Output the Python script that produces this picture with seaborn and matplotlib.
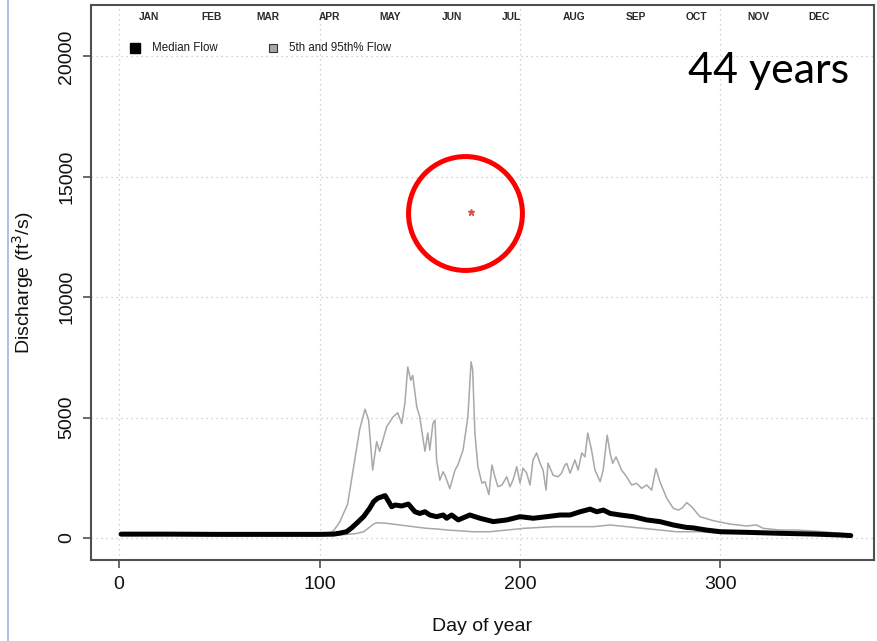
import pandas as pd
import matplotlib
matplotlib.use('Agg')
import matplotlib.pyplot as plt
import matplotlib.transforms as mtransforms
from matplotlib.lines import Line2D
import seaborn as sns

# 95th percentile flow (day of year, ft3/s)
p95_days = [1, 20, 40, 60, 80, 100, 105, 107, 110, 114, 117, 120, 122.7, 124.5,
            126.5, 128.5, 130, 133.5, 136.7, 139, 141, 142.6, 144, 145.5, 146.5,
            148.5, 150, 151.7, 152.6, 154, 155, 156.6, 157.6, 158.4, 160, 161.6,
            162.6, 165, 167.6, 169, 171.6, 174, 175.6, 176.4, 177.5, 179, 181,
            182.5, 184.5, 186, 187.5, 189, 191, 193.4, 195, 196.5, 198.4, 200,
            201.5, 203.3, 205, 206.5, 208.3, 210, 211.5, 213, 214, 216.5, 219,
            220.8, 222.4, 223.3, 225, 227.4, 229, 230.8, 232.4, 233.8, 235.7,
            237.4, 240, 241.5, 243.5, 245, 246.2, 247.9, 250.7, 253.2, 255.7,
            258.2, 260.7, 263.2, 265.7, 267.8, 269.8, 273.2, 276.5, 279, 281,
            283.2, 285.6, 289.8, 296.4, 304.7, 313, 318, 321.4, 329.7, 338,
            351.3, 359.6, 365]
p95_flow = [190, 180, 170, 160, 170, 180, 220, 300, 650, 1400, 2950, 4500, 5350, 4900,
            2820, 4000, 3600, 4620, 5030, 5200, 4750, 5600, 7100, 6550, 6750,
            5450, 5030, 4070, 3600, 4360, 3650, 4770, 4900, 3240, 2400, 2750,
            2600, 2050, 2820, 3030, 3650, 5030, 7320, 6970, 4360, 2960, 2280,
            2340, 1800, 3030, 2540, 2130, 2200, 2540, 2130, 2400, 2960, 2280,
            2900, 2700, 2200, 3240, 3530, 3110, 2820, 1990, 3110, 2610, 2540,
            2700, 3030, 3100, 2690, 3240, 2820, 3530, 3370, 4360, 3650,
            2820, 2340, 2820, 4270, 3510, 3100, 3370, 2820, 2540, 2200,
            2270, 2060, 2200, 1990, 2890, 2340, 1650, 1230, 1160, 1250,
            1470, 1300, 885, 720, 580, 500, 540, 400, 330, 330,
            260, 195, 125]

# median flow
med_days = [1, 25, 50, 75, 100, 107, 110, 113.5, 116, 118.5, 122, 125, 127, 129,
            132.7, 134, 136, 137.7, 141, 144.3, 147.6, 150, 152.6, 155, 158.4,
            161.7, 163.4, 165.9, 169.2, 172, 175, 180, 186.7, 193.4, 200, 206.6,
            213.3, 220, 225, 230, 235, 238.3, 241.6, 245, 250, 256.5, 263.2,
            269.8, 276.5, 283, 286.4, 293, 300, 313, 329.7, 346, 359.6, 365]
med_flow = [160, 160, 150, 150, 150, 160, 200, 260, 420, 610, 890, 1230, 1510, 1650,
            1760, 1580, 1300, 1370, 1330, 1410, 1090, 1020, 1090, 955, 885,
            955, 820, 955, 750, 850, 955, 820, 680, 750, 885, 820,
            885, 955, 955, 1090, 1200, 1090, 1160, 1020, 955, 885, 750,
            680, 540, 440, 420, 330, 260, 235, 195, 165, 125, 100]

# 5th percentile flow
p5_days = [1, 50, 100, 110, 118, 122, 125, 127, 128.5, 133.5, 140, 146.8, 153.5,
           158.4, 164, 176.7, 185, 193.4, 201.7, 210, 216.6, 220, 228.3, 236.6,
           245, 253.2, 261.5, 269.8, 278, 289.8, 300, 313, 338, 365]
p5_flow = [120, 110, 110, 130, 180, 260, 450, 580, 635, 610, 540, 470, 400,
           375, 330, 260, 260, 330, 400, 440, 470, 470, 470, 470,
           540, 470, 400, 330, 260, 260, 195, 195, 165, 125]

month_names = ['JAN', 'FEB', 'MAR', 'APR', 'MAY', 'JUN', 'JUL', 'AUG', 'SEP',
               'OCT', 'NOV', 'DEC']
month_mid_days = [15, 46, 74, 105, 135, 166, 196, 227, 258, 288, 319, 349]

x_ticks = [0, 100, 200, 300]
y_ticks = [0, 5000, 10000, 15000, 20000]

# highlighted outlier point and its ring
star_day, star_flow = 175.6, 13530
ring_day, ring_flow = 172.8, 13510

years_note = '44 years'


def build_frames():
    """long tables for seaborn"""
    p95 = pd.DataFrame({'day': p95_days, 'flow': p95_flow})
    med = pd.DataFrame({'day': med_days, 'flow': med_flow})
    p5 = pd.DataFrame({'day': p5_days, 'flow': p5_flow})
    return p95, med, p5


def draw_chart():
    sns.set_style('ticks')
    plt.rcParams['font.family'] = ['Liberation Sans', 'DejaVu Sans']

    fig = plt.figure(figsize=(8.77, 6.41), dpi=100)
    ax = fig.add_axes([91 / 877, 81 / 641, 783 / 877, 555 / 641])

    p95, med, p5 = build_frames()
    gray = '#a8a8a8'
    sns.lineplot(data=p95, x='day', y='flow', ax=ax, color=gray, lw=1.1)
    sns.lineplot(data=p5, x='day', y='flow', ax=ax, color=gray, lw=1.1)
    sns.lineplot(data=med, x='day', y='flow', ax=ax, color='black', lw=3.6)

    ax.set_xlim(-14, 376.6)
    ax.set_ylim(-914, 22135)
    ax.set_xticks(x_ticks)
    ax.set_yticks(y_ticks)
    ax.set_axisbelow(True)
    ax.grid(True, ls=(0, (1, 3)), color='#c4c4c4', lw=0.9)

    for sp in ax.spines.values():
        sp.set_visible(True)
        sp.set_color('#505050')
        sp.set_linewidth(1.5)
    ax.tick_params(axis='both', length=5.5, width=1.1, color='#404040',
                   labelsize=14, labelcolor='#111111', pad=6)
    for lab in ax.get_yticklabels():
        lab.set_rotation(90)
        lab.set_va('center')

    ax.set_xlabel('Day of year', fontsize=14, color='#111111')
    ax.set_ylabel('Discharge (ft$^3$/s)', fontsize=14, color='#111111')
    ax.xaxis.set_label_coords(0.5, -0.105)
    ax.yaxis.set_label_coords(-0.07, 0.5)

    # month names along the top
    trans = mtransforms.blended_transform_factory(ax.transData, ax.transAxes)
    for name, d in zip(month_names, month_mid_days):
        ax.text(d, 0.9775, name, transform=trans, ha='center', va='center',
                fontsize=7.4, fontweight='bold', color='#2a2a2a')

    # legend
    ax.plot([0.056], [0.922], marker='s', ms=6.5, color='black',
            transform=ax.transAxes, clip_on=False)
    ax.text(0.0779, 0.922, 'Median Flow', transform=ax.transAxes,
            va='center', fontsize=8.3, color='#1a1a1a')
    ax.plot([0.2324], [0.922], marker='s', ms=6, mfc=gray, mec='#333333',
            mew=0.8, transform=ax.transAxes, clip_on=False)
    ax.text(0.2529, 0.922, '5th and 95th% Flow', transform=ax.transAxes,
            va='center', fontsize=8.3, color='#1a1a1a')

    # outlier and red ring
    ax.plot([star_day], [star_flow], marker='*', ms=4.5, color='#d9534f', lw=0)
    ax.plot([ring_day], [ring_flow], marker='o', ms=82, mfc='none',
            mec='#ff0000', mew=3.6, lw=0)

    fig.text(688 / 877, 1 - 83 / 641, years_note, fontsize=31,
             family=['Lato', 'DejaVu Sans'], va='baseline', color='black')

    fig.add_artist(Line2D([8 / 877, 8 / 877], [0, 1], color='#9fb5df', lw=1.2,
                          transform=fig.transFigure))

    fig.savefig('out.png', dpi=100)


if __name__ == "__main__":
    draw_chart()
